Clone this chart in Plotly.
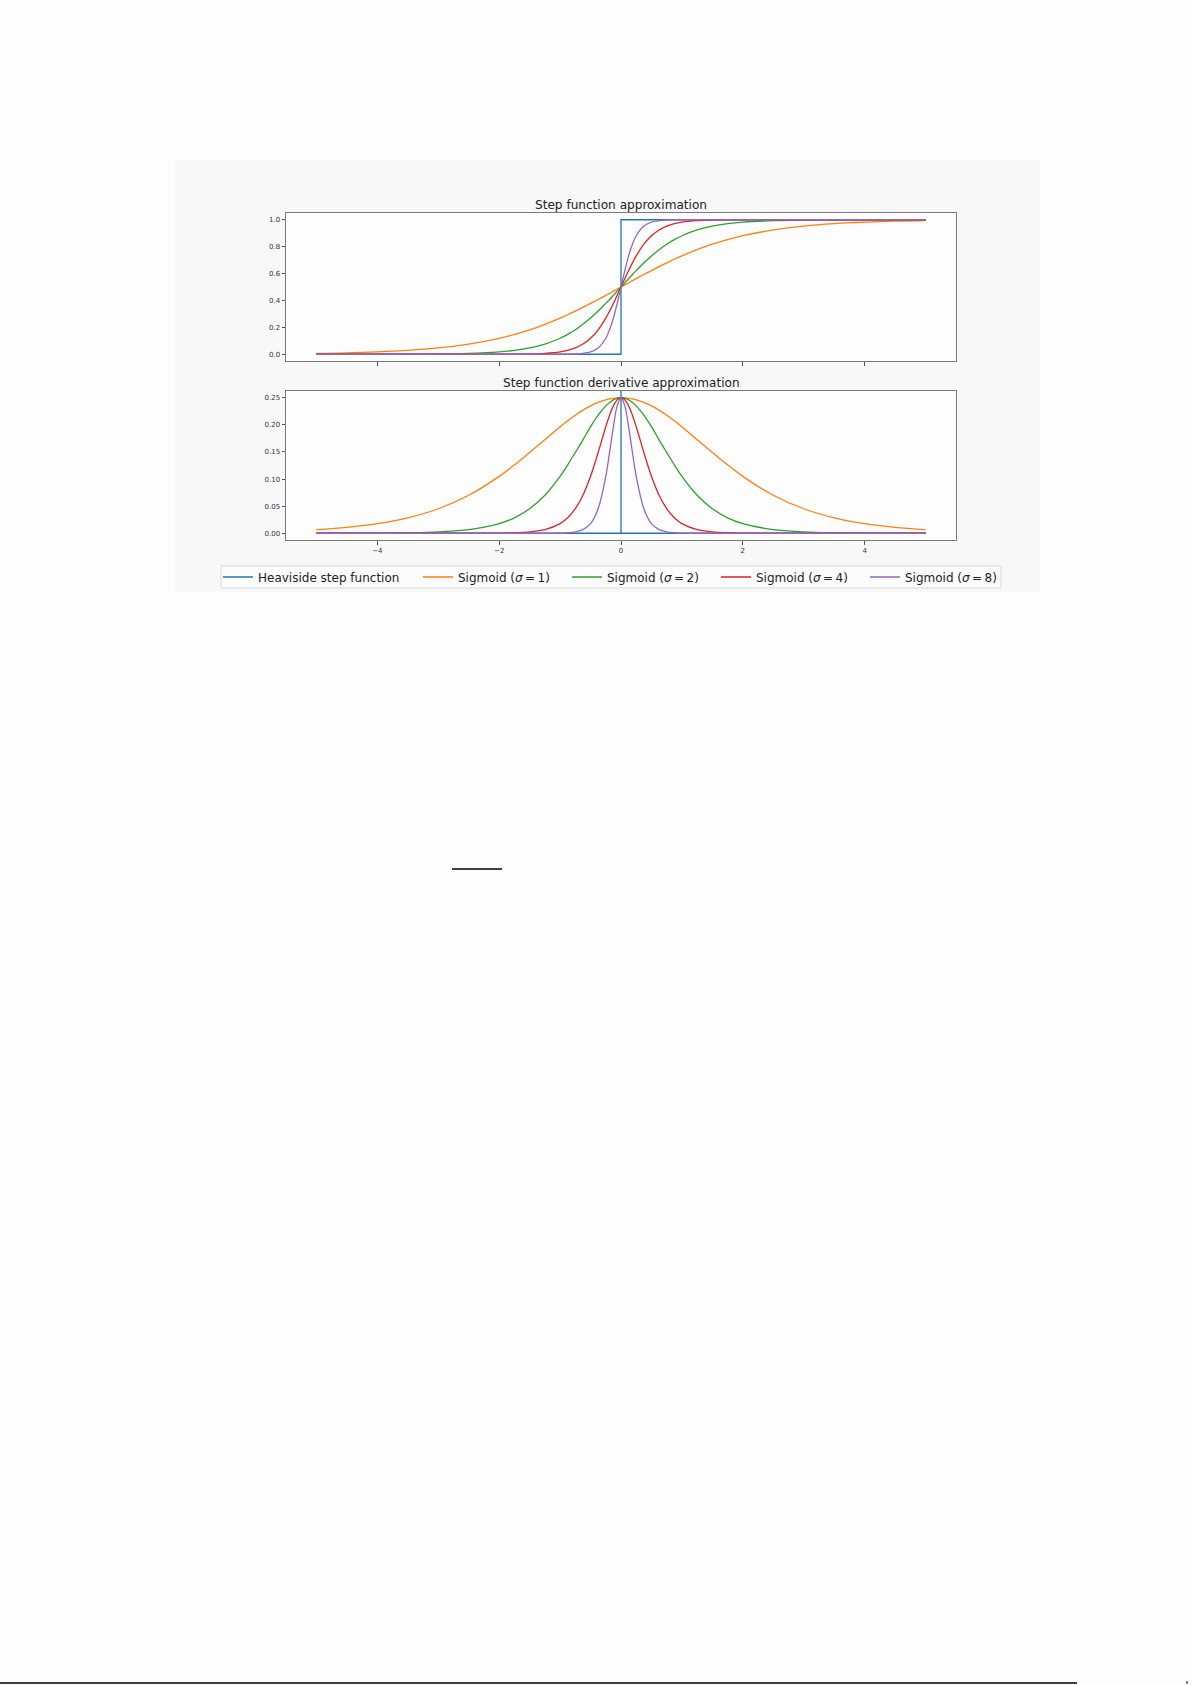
import plotly.graph_objects as go

W, H = 1192, 1685

# ---------------- data ----------------
x_vals = [-5, -4.5, -4, -3.5, -3, -2.5, -2, -1.75, -1.5, -1.25, -1, -0.875, -0.75, -0.625, -0.5, -0.375, -0.25,
          -0.1875, -0.125, -0.0625, 0,
          0.0625, 0.125, 0.1875, 0.25, 0.375, 0.5, 0.625, 0.75, 0.875, 1, 1.25, 1.5, 1.75, 2, 2.5, 3, 3.5, 4, 4.5, 5]

heaviside_x = [-5, 0, 0, 5]
heaviside_y = [0, 0, 1, 1]
heaviside_dx = [-5, 0, 0, 0, 5]
heaviside_dy = [0, 0, 1, 0, 0]

sig1 = [0.007, 0.011, 0.018, 0.029, 0.047, 0.076, 0.119, 0.148, 0.182, 0.223, 0.269, 0.294, 0.321, 0.349, 0.378,
        0.407, 0.438, 0.453, 0.469, 0.484, 0.5,
        0.516, 0.531, 0.547, 0.562, 0.593, 0.622, 0.651, 0.679, 0.706, 0.731, 0.777, 0.818, 0.852, 0.881, 0.924,
        0.953, 0.971, 0.982, 0.989, 0.993]
sig2 = [0.000, 0.000, 0.000, 0.001, 0.002, 0.007, 0.018, 0.029, 0.047, 0.076, 0.119, 0.148, 0.182, 0.223, 0.269,
        0.321, 0.378, 0.407, 0.438, 0.469, 0.5,
        0.531, 0.562, 0.593, 0.622, 0.679, 0.731, 0.777, 0.818, 0.852, 0.881, 0.924, 0.953, 0.971, 0.982, 0.993,
        0.998, 0.999, 1.000, 1.000, 1.000]
sig4 = [0.000, 0.000, 0.000, 0.000, 0.000, 0.000, 0.000, 0.001, 0.002, 0.007, 0.018, 0.029, 0.047, 0.076, 0.119,
        0.182, 0.269, 0.321, 0.378, 0.438, 0.5,
        0.562, 0.622, 0.679, 0.731, 0.818, 0.881, 0.924, 0.953, 0.971, 0.982, 0.993, 0.998, 0.999, 1.000, 1.000,
        1.000, 1.000, 1.000, 1.000, 1.000]
sig8 = [0.000, 0.000, 0.000, 0.000, 0.000, 0.000, 0.000, 0.000, 0.000, 0.000, 0.000, 0.001, 0.002, 0.007, 0.018,
        0.047, 0.119, 0.182, 0.269, 0.378, 0.5,
        0.622, 0.731, 0.818, 0.881, 0.953, 0.982, 0.993, 0.998, 0.999, 1.000, 1.000, 1.000, 1.000, 1.000, 1.000,
        1.000, 1.000, 1.000, 1.000, 1.000]

dsig1 = [0.0066, 0.0109, 0.0177, 0.0285, 0.0452, 0.0701, 0.1050, 0.1262, 0.1491, 0.1723, 0.1966, 0.2076, 0.2179,
         0.2272, 0.2350, 0.2414, 0.2461, 0.2478, 0.2490, 0.2498, 0.25,
         0.2498, 0.2490, 0.2478, 0.2461, 0.2414, 0.2350, 0.2272, 0.2179, 0.2076, 0.1966, 0.1723, 0.1491, 0.1262,
         0.1050, 0.0701, 0.0452, 0.0285, 0.0177, 0.0109, 0.0066]
dsig2 = [0.0000, 0.0001, 0.0003, 0.0009, 0.0025, 0.0066, 0.0177, 0.0285, 0.0452, 0.0701, 0.1050, 0.1262, 0.1491,
         0.1723, 0.1966, 0.2179, 0.2350, 0.2414, 0.2461, 0.2490, 0.25,
         0.2490, 0.2461, 0.2414, 0.2350, 0.2179, 0.1966, 0.1723, 0.1491, 0.1262, 0.1050, 0.0701, 0.0452, 0.0285,
         0.0177, 0.0066, 0.0025, 0.0009, 0.0003, 0.0001, 0.0000]
dsig4 = [0.0000, 0.0000, 0.0000, 0.0000, 0.0000, 0.0000, 0.0003, 0.0009, 0.0025, 0.0066, 0.0177, 0.0285, 0.0452,
         0.0701, 0.1050, 0.1491, 0.1966, 0.2179, 0.2350, 0.2461, 0.25,
         0.2461, 0.2350, 0.2179, 0.1966, 0.1491, 0.1050, 0.0701, 0.0452, 0.0285, 0.0177, 0.0066, 0.0025, 0.0009,
         0.0003, 0.0000, 0.0000, 0.0000, 0.0000, 0.0000, 0.0000]
dsig8 = [0.0000, 0.0000, 0.0000, 0.0000, 0.0000, 0.0000, 0.0000, 0.0000, 0.0000, 0.0000, 0.0003, 0.0009, 0.0025,
         0.0066, 0.0177, 0.0452, 0.1050, 0.1491, 0.1966, 0.2350, 0.25,
         0.2350, 0.1966, 0.1491, 0.1050, 0.0452, 0.0177, 0.0066, 0.0025, 0.0009, 0.0003, 0.0000, 0.0000, 0.0000,
         0.0000, 0.0000, 0.0000, 0.0000, 0.0000, 0.0000, 0.0000]

series_names = ["Heaviside step function", "Sigmoid (<i>σ</i>\u2009=\u20091)", "Sigmoid (<i>σ</i>\u2009=\u20092)",
                "Sigmoid (<i>σ</i>\u2009=\u20094)", "Sigmoid (<i>σ</i>\u2009=\u20098)"]
colors = ["#1f77b4", "#ff7f0e", "#2ca02c", "#d62728", "#9467bd"]

x_tickvals = [-4, -2, 0, 2, 4]
x_ticktext = ["−4", "−2", "0", "2", "4"]
top_tickvals = [0.0, 0.2, 0.4, 0.6, 0.8, 1.0]
bot_tickvals = [0.00, 0.05, 0.10, 0.15, 0.20, 0.25]

titles = ["Step function approximation", "Step function derivative approximation"]

# ---------------- figure ----------------
def px_x(p):
    return p / W

def px_y(p):
    return 1 - p / H

FONT = "DejaVu Sans"
fig = go.Figure()

legend_ids = ["legend", "legend2", "legend3", "legend4", "legend5"]
legend_text_x = [259, 459, 608, 757, 906]   # pixel x where each legend label starts

top_sets = [(heaviside_x, heaviside_y, "linear")] + [(x_vals, s, "spline") for s in (sig1, sig2, sig4, sig8)]
bot_sets = [(heaviside_dx, heaviside_dy, "linear")] + [(x_vals, s, "spline") for s in (dsig1, dsig2, dsig4, dsig8)]

for i, (xx, yy, shp) in enumerate(top_sets):
    fig.add_trace(go.Scatter(x=xx, y=yy, mode="lines", name=series_names[i], legendgroup=str(i),
                             legend=legend_ids[i],
                             line=dict(color=colors[i], width=1.3, shape=shp,
                                       smoothing=1.0 if shp == "spline" else None),
                             xaxis="x", yaxis="y", showlegend=True))
for i, (xx, yy, shp) in enumerate(bot_sets):
    fig.add_trace(go.Scatter(x=xx, y=yy, mode="lines", name=series_names[i], legendgroup=str(i),
                             legend=legend_ids[i],
                             line=dict(color=colors[i], width=1.3, shape=shp,
                                       smoothing=1.0 if shp == "spline" else None),
                             xaxis="x2", yaxis="y2", showlegend=False))

xdom = [px_x(286), px_x(956)]
top_dom = [px_y(361), px_y(213)]
bot_dom = [px_y(540), px_y(391)]

axis_common = dict(showline=True, linecolor="#7a7a7a", linewidth=1, mirror=True,
                   ticks="outside", ticklen=3.5, tickwidth=0.8, tickcolor="#555555",
                   showgrid=False, zeroline=False,
                   tickfont=dict(family=FONT, size=7, color="#333333"))

legend_layout = {}
for i, lid in enumerate(legend_ids):
    legend_layout[lid] = dict(orientation="h", x=px_x(legend_text_x[i] - 41), y=px_y(577),
                              xanchor="left", yanchor="middle",
                              bgcolor="rgba(0,0,0,0)", borderwidth=0,
                              font=dict(family=FONT, size=12, color="#222222"),
                              itemwidth=30, itemclick=False)

fig.update_layout(
    width=W, height=H,
    margin=dict(l=0, r=0, t=0, b=0),
    paper_bgcolor="#fdfdfd",
    plot_bgcolor="#fdfdfd",
    font=dict(family=FONT, color="#222222"),
    xaxis=dict(domain=xdom, anchor="y", range=[-5.5, 5.5], tickvals=x_tickvals, ticktext=x_ticktext,
               showticklabels=False, **axis_common),
    yaxis=dict(domain=top_dom, anchor="x", range=[-0.05, 1.05], tickvals=top_tickvals, tickformat=".1f",
               **axis_common),
    xaxis2=dict(domain=xdom, anchor="y2", range=[-5.5, 5.5], tickvals=x_tickvals, ticktext=x_ticktext,
                matches="x", **axis_common),
    yaxis2=dict(domain=bot_dom, anchor="x2", range=[-0.0125, 0.2625], tickvals=bot_tickvals, tickformat=".2f",
                **axis_common),
    showlegend=True,
    **legend_layout,
)

# subplot titles
for t, yc in zip(titles, [205, 383]):
    fig.add_annotation(text=t, x=(xdom[0] + xdom[1]) / 2, y=px_y(yc), xref="paper", yref="paper",
                       xanchor="center", yanchor="middle", showarrow=False,
                       font=dict(family=FONT, size=12.1, color="#222222"))

# figure region background, axes faces, legend frame, page marks
fig.add_shape(type="rect", xref="paper", yref="paper", x0=px_x(175), x1=px_x(1040), y0=px_y(592), y1=px_y(160),
              fillcolor="#f8f8f8", line=dict(width=0), layer="below")
for dom in (top_dom, bot_dom):
    fig.add_shape(type="rect", xref="paper", yref="paper", x0=xdom[0], x1=xdom[1], y0=dom[0], y1=dom[1],
                  fillcolor="#fdfdfd", line=dict(width=0), layer="below")
fig.add_shape(type="rect", xref="paper", yref="paper", x0=px_x(221), x1=px_x(1001), y0=px_y(588), y1=px_y(566),
              fillcolor="#fcfcfc", line=dict(color="#dadada", width=1), layer="below")
fig.add_shape(type="line", xref="paper", yref="paper", x0=px_x(452), x1=px_x(502), y0=px_y(869), y1=px_y(869),
              line=dict(color="#000000", width=1.3))
fig.add_shape(type="line", xref="paper", yref="paper", x0=px_x(0), x1=px_x(1077), y0=px_y(1683), y1=px_y(1683),
              line=dict(color="#000000", width=1.3))
fig.add_shape(type="line", xref="paper", yref="paper", x0=px_x(1187), x1=px_x(1187), y0=px_y(1684), y1=px_y(1681),
              line=dict(color="#000000", width=1))

fig.write_html("out.html", config={"displayModeBar": False},
               post_script="document.body.style.margin='0';document.body.style.background='#fdfdfd';")
